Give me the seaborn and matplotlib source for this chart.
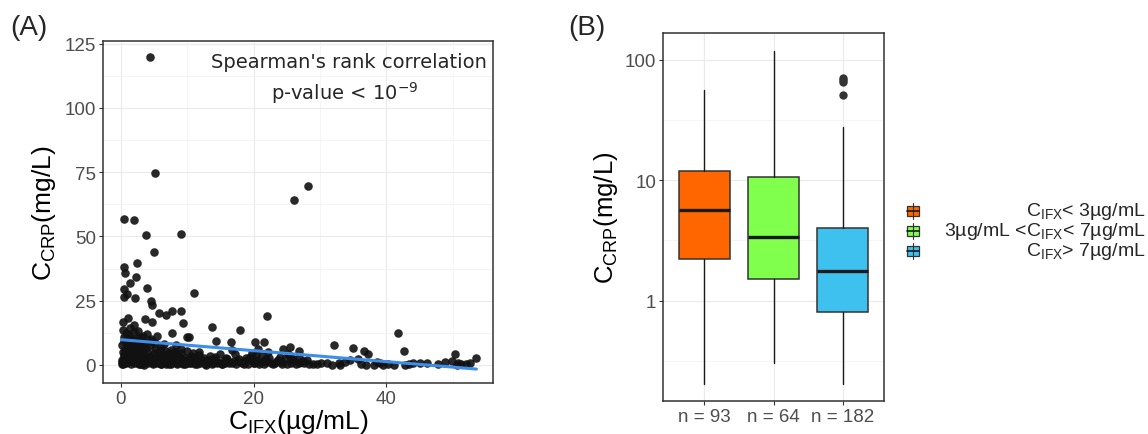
import numpy as np
import pandas as pd
import seaborn as sns
import matplotlib.pyplot as plt
from matplotlib.patches import Rectangle
from matplotlib.lines import Line2D
from matplotlib.ticker import FixedLocator, NullFormatter

# ---- panel A data: infliximab vs CRP ----
ifx_high = [4.46, 5.1, 26.1, 28.2, 0.5, 1.9, 3.8, 9.0, 5.0, 2.5, 0.5, 0.6, 2.3, 1.35,
            3.9, 0.45, 0.95, 0.5, 2.1, 11.0, 4.5, 4.65, 5.75, 6.75, 7.7, 9.1, 3.7, 1.0,
            0.35, 4.75, 9.4, 22.1, 13.7, 18.0, 7.7, 41.8, 10.0, 10.3, 14.4, 16.6, 20.2,
            21.6, 32.1, 25.5, 35.0, 42.7, 26.9, 24.4, 36.7, 37.3, 50.4, 53.6]
crp_high = [119.9, 74.8, 64.3, 69.5, 56.9, 56.4, 50.7, 50.8, 44.0, 39.8, 38.1, 35.9, 34.2,
            32.0, 30.0, 29.4, 27.6, 26.5, 26.2, 27.9, 24.9, 23.2, 20.2, 19.3, 21.0, 20.9,
            18.0, 18.4, 16.7, 16.7, 16.5, 18.9, 14.7, 13.5, 12.6, 12.6, 11.0, 11.0, 9.5,
            9.1, 9.1, 9.1, 7.9, 7.1, 6.5, 5.6, 5.6, 6.1, 5.6, 4.3, 4.4, 2.7]

ifx_tail = [31.0, 32.9, 33.0, 34.5, 35.7, 37.0, 38.1, 39.1, 39.5, 41.2, 42.8, 44.1, 46.2,
            49.9, 50.8, 50.6, 52.0]
crp_tail = [0.9, 0.9, 0.0, 1.8, 2.5, 0.0, 0.0, 0.9, 0.0, 0.0, 0.0, 0.9, 0.9,
            1.5, 0.9, 0.0, 0.3]

ifx_low = [0.2, 0.3, 0.4, 0.5, 0.3, 0.6, 0.2, 0.5, 0.4, 0.7, 0.3, 0.8, 0.9, 1.0, 1.1, 0.9,
           1.2, 1.3, 1.5, 1.6, 1.4, 1.7, 1.8, 1.9, 2.0, 2.1, 2.2, 2.4, 2.3, 2.5, 2.6, 2.8,
           2.9, 3.0, 3.1, 3.2, 3.3, 3.5, 3.6, 3.4, 3.8, 3.7, 3.9, 4.1, 4.2, 4.3, 4.0, 4.4,
           4.6, 4.8, 4.9, 5.0, 5.2, 5.1, 5.4, 5.5, 5.6, 5.8, 5.9, 6.1, 6.0, 6.3, 6.4, 6.6,
           6.5, 6.8, 7.0, 7.1, 7.3, 7.5, 7.6, 7.8, 8.0, 8.2, 8.3, 8.5, 8.7, 8.9, 9.1, 9.3,
           9.5, 9.7, 9.9, 10.2, 10.4, 10.6, 10.9, 11.2, 11.4, 11.7, 12.0, 12.3, 12.6, 12.9,
           13.1, 13.4, 13.8, 14.1, 14.5, 14.9, 15.2, 15.5, 15.9, 16.3, 16.7, 17.0, 17.4,
           17.8, 18.3, 18.7, 19.1, 19.4, 19.7, 20.0, 20.3, 20.6, 20.9, 21.2, 21.5, 21.8,
           22.2, 22.6, 23.0, 23.5, 24.0, 24.3, 24.8, 25.2, 25.6, 26.0, 26.4, 26.8, 27.2,
           27.6, 28.0, 28.4]
crp_low = [0.3, 1.2, 2.5, 3.8, 5.1, 6.4, 7.9, 9.2, 10.8, 12.3, 13.5, 0.6, 2.1, 4.4, 5.9,
           8.4, 11.6, 14.2, 0.2, 1.7, 3.1, 6.8, 9.9, 12.9, 15.5, 0.9, 2.8, 4.9, 7.3, 10.4,
           13.1, 0.4, 1.9, 3.6, 5.5, 8.1, 11.2, 0.1, 2.3, 4.2, 6.6, 9.0, 12.0, 0.7, 1.5,
           3.3, 5.2, 7.7, 10.1, 0.2, 2.6, 4.6, 6.2, 8.7, 11.4, 0.9, 1.8, 3.9, 5.8, 7.0,
           0.3, 2.2, 4.1, 5.4, 8.3, 0.5, 1.4, 3.0, 4.7, 6.0, 0.2, 2.0, 3.5, 5.1, 7.6, 0.8,
           1.9, 3.2, 4.8, 0.3, 1.6, 2.7, 5.6, 0.6, 1.3, 3.4, 4.5, 0.2, 2.1, 3.9, 0.7, 1.8,
           2.9, 0.1, 1.2, 3.6, 0.5, 2.4, 0.9, 4.2, 0.3, 1.7, 2.8, 0.6, 5.9, 1.4, 0.2, 2.3,
           0.8, 1.5, 0.3, 3.1, 4.6, 0.7, 2.0, 6.3, 1.1, 3.7, 0.4, 2.5, 5.0, 0.9, 0.2, 1.6,
           3.3, 0.5, 2.2, 4.4, 0.8, 1.9, 0.3, 3.0, 1.2, 0.6, 2.1, 0.4]

# extra points filling the solid band near the x axis
ifx_band = [0.1, 0.2, 0.4, 0.6, 0.7, 0.8, 1.0, 1.1, 1.3, 1.4, 1.6, 1.7, 1.9, 2.0, 2.2,
            2.3, 2.5, 2.7, 2.8, 2.9, 0.3, 0.5, 0.9, 1.2, 1.5, 1.8, 2.1, 2.4, 2.6, 2.9,
            3.2, 3.6, 4.0, 4.4, 4.8, 5.2, 5.6, 6.0, 6.4, 6.8, 3.4, 4.6, 5.4, 6.2, 6.9,
            7.2, 7.9, 8.4, 8.8, 9.2, 9.6, 10.0, 10.5, 11.0, 11.5, 12.1, 12.7, 13.3, 13.9,
            14.6, 15.3, 16.0, 16.8, 17.6, 18.5, 19.3, 20.1, 20.8, 21.6, 22.4, 23.2, 24.1,
            25.0, 25.9, 26.9, 7.5, 8.1, 9.0, 9.8, 10.7, 11.8, 12.9, 14.2, 15.7, 17.2,
            18.9, 20.4, 21.9, 23.7, 25.5, 27.4, 29.0, 30.2, 33.8, 36.2, 38.6, 40.3, 43.5,
            45.1, 47.8, 48.9, 51.3, 52.7, 29.6, 31.8]
crp_band = [1.0, 2.0, 3.0, 4.0, 5.0, 6.0, 7.0, 8.0, 9.0, 10.0, 1.5, 2.5, 3.5, 4.5, 5.5,
            6.5, 7.5, 8.5, 9.5, 11.0, 0.5, 0.8, 1.2, 2.2, 3.2, 4.2, 5.2, 6.2, 7.2, 0.2,
            0.5, 1.5, 2.5, 3.5, 0.8, 1.8, 2.8, 0.4, 1.2, 2.4, 6.5, 9.5, 3.0, 4.4, 0.9,
            0.4, 1.1, 0.2, 2.6, 0.9, 0.3, 1.8, 0.6, 2.7, 0.2, 1.4, 0.5, 2.0, 0.8,
            1.1, 0.3, 2.5, 0.7, 1.6, 0.4, 2.2, 0.9, 0.3, 1.5, 2.8, 0.6, 1.1,
            0.2, 2.4, 0.8, 3.8, 4.5, 6.1, 0.8, 2.9, 4.9, 1.7, 3.2, 0.9, 4.1,
            2.6, 3.9, 1.0, 2.1, 3.4, 1.6, 0.5, 0.7, 1.2, 0.4, 1.3, 0.2, 0.5,
            0.6, 0.3, 1.1, 0.4, 0.8, 0.3, 0.1]

df_a = pd.DataFrame({"ifx": ifx_high + ifx_tail + ifx_low + ifx_band,
                     "crp": crp_high + crp_tail + crp_low + crp_band})

# ---- panel B data: box summaries per IFX group (log scale) ----
groups = ["C_IFX< 3", "3< C_IFX< 7", "C_IFX> 7"]
n_labels = ["n = 93", "n = 64", "n = 182"]
whisk_lo = [0.203, 0.303, 0.203]
q1 = [2.21, 1.51, 0.80]
median = [5.64, 3.40, 1.76]
q3 = [11.9, 10.6, 4.0]
whisk_hi = [56.8, 119.7, 28.0]
outliers = [[], [], [51.0, 65.3, 68.0, 71.0]]
box_colors = ["#FF6600", "#80FF4D", "#3EC1EE"]
legend_labels = [r"$\mathregular{C_{IFX}}$< 3µg/mL",
                 r"3µg/mL <$\mathregular{C_{IFX}}$< 7µg/mL",
                 r"$\mathregular{C_{IFX}}$> 7µg/mL"]

sns.set_theme(style="white")
plt.rcParams["font.family"] = ["Liberation Sans", "DejaVu Sans"]
plt.rcParams["mathtext.fontset"] = "custom"
plt.rcParams["mathtext.rm"] = "Liberation Sans"

W, H = 1148, 435
fig = plt.figure(figsize=(W / 100, H / 100), dpi=100)


def px_axes(l, t, r, b):
    return fig.add_axes([l / W, 1 - b / H, (r - l) / W, (b - t) / H])


def style_axes(ax):
    for s in ax.spines.values():
        s.set_color("#333333")
        s.set_linewidth(1.1)
    ax.tick_params(which="major", length=2.75, width=0.8, color="#333333", pad=2.2,
                   labelsize=13.5, labelcolor="#4D4D4D", bottom=True, left=True)
    ax.tick_params(which="minor", length=0)
    ax.grid(which="major", color="#EBEBEB", lw=0.9)
    ax.grid(which="minor", color="#F2F2F2", lw=0.5)
    ax.set_axisbelow(True)


# ---- (A) scatter with linear fit ----
axA = px_axes(103, 42, 493, 384)
style_axes(axA)
sns.scatterplot(data=df_a, x="ifx", y="crp", ax=axA, s=38, color="#111111",
                alpha=0.9, linewidth=0, zorder=3)
sns.regplot(data=df_a, x="ifx", y="crp", ax=axA, scatter=False, ci=None,
            color="#3D8EEA", line_kws={"lw": 2.2, "zorder": 4})
axA.set_xlim(-2.7, 56.1)
axA.set_ylim(-7, 126)
axA.xaxis.set_major_locator(FixedLocator([0, 20, 40]))
axA.xaxis.set_minor_locator(FixedLocator([10, 30, 50]))
axA.yaxis.set_major_locator(FixedLocator([0, 25, 50, 75, 100, 125]))
axA.yaxis.set_minor_locator(FixedLocator([12.5, 37.5, 62.5, 87.5, 112.5]))
axA.set_xlabel(r"$\mathregular{C_{IFX}}$(µg/mL)", fontsize=19, color="black")
axA.set_ylabel(r"$\mathregular{C_{CRP}}$(mg/L)", fontsize=19, color="black")
axA.xaxis.set_label_coords(0.5, -0.07)
axA.yaxis.set_label_coords(-0.115, 0.5)
axA.text(0.985, 0.94, "Spearman's rank correlation", transform=axA.transAxes,
         ha="right", va="center", fontsize=14, family="DejaVu Sans")
axA.text(0.62, 0.85, r"p-value < 10$^{\mathregular{-9}}$", transform=axA.transAxes,
         ha="center", va="center", fontsize=14, family="DejaVu Sans")

# ---- (B) boxplots on log scale ----
axB = px_axes(663, 34, 884, 402)
style_axes(axB)
stats = []
for i in range(len(groups)):
    stats.append({"whislo": whisk_lo[i], "q1": q1[i], "med": median[i],
                  "q3": q3[i], "whishi": whisk_hi[i], "fliers": outliers[i]})
bp = axB.bxp(stats, positions=range(len(groups)), widths=0.75, patch_artist=True,
             showcaps=False,
             boxprops={"edgecolor": "#333333", "linewidth": 1.1},
             medianprops={"color": "#1A1A1A", "linewidth": 2.4},
             whiskerprops={"color": "#1A1A1A", "linewidth": 1.0},
             flierprops={"marker": "o", "markerfacecolor": "#333333",
                         "markeredgecolor": "#333333", "markersize": 5})
for patch, c in zip(bp["boxes"], box_colors):
    patch.set_facecolor(c)
axB.set_yscale("log")
axB.set_xlim(-0.6, 2.6)
axB.set_ylim(0.1466, 167.6)
axB.yaxis.set_major_locator(FixedLocator([1, 10, 100]))
axB.yaxis.set_minor_locator(FixedLocator([10 ** -0.5, 10 ** 0.5, 10 ** 1.5]))
axB.yaxis.set_minor_formatter(NullFormatter())
axB.set_yticklabels(["1", "10", "100"])
axB.set_xticks(range(len(groups)))
axB.set_xticklabels(n_labels)
axB.set_ylabel(r"$\mathregular{C_{CRP}}$(mg/L)", fontsize=18.5, color="black")
axB.yaxis.set_label_coords(-0.195, 0.5)

# legend drawn by hand so the labels can be right aligned like ggplot
key_y = [212, 232, 252]
for yk, c, lab in zip(key_y, box_colors, legend_labels):
    xc = 913
    fig.add_artist(Line2D([xc / W, xc / W], [1 - (yk - 8) / H, 1 - (yk + 8) / H],
                          color="#333333", lw=0.8, transform=fig.transFigure))
    fig.add_artist(Rectangle(((xc - 6) / W, 1 - (yk + 5) / H), 12 / W, 10 / H,
                             facecolor=c, edgecolor="#333333", lw=0.9,
                             transform=fig.transFigure))
    fig.add_artist(Line2D([(xc - 6) / W, (xc + 6) / W], [1 - yk / H, 1 - yk / H],
                          color="#1A1A1A", lw=1.2, transform=fig.transFigure))
    fig.text(1146 / W, 1 - yk / H, lab, ha="right", va="center", fontsize=14)

fig.text(10 / W, 1 - 28 / H, "(A)", fontsize=20, va="center", ha="left")
fig.text(568 / W, 1 - 28 / H, "(B)", fontsize=20, va="center", ha="left")

fig.savefig("out.png", dpi=100, facecolor="white")
